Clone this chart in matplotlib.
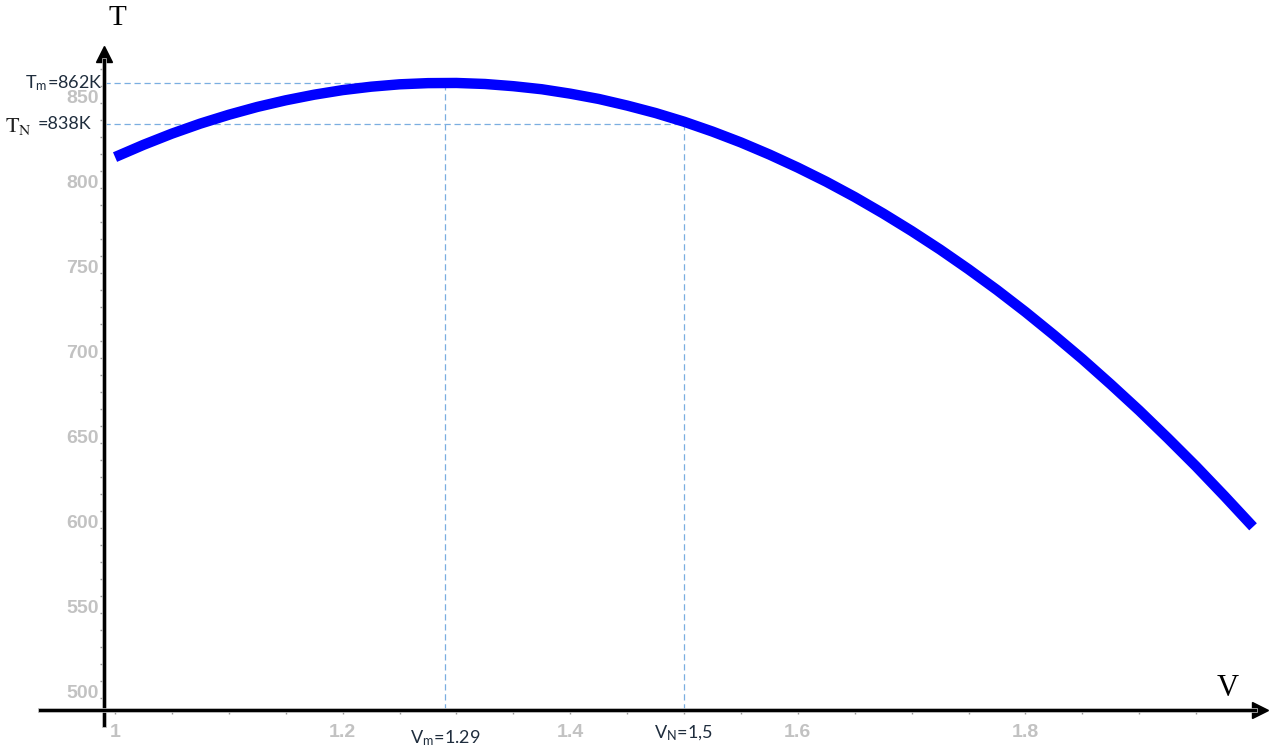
import matplotlib
matplotlib.use("Agg")
import matplotlib.pyplot as plt
import matplotlib.patheffects as pe
from matplotlib.ticker import FixedLocator, NullFormatter
import numpy as np

# Temperature of the gas along the process, T(V)
volume = [1.000, 1.025, 1.050, 1.075, 1.100, 1.125, 1.150, 1.175, 1.200,
          1.225, 1.250, 1.275, 1.300, 1.325, 1.350, 1.375, 1.400, 1.425,
          1.450, 1.475, 1.500, 1.525, 1.550, 1.575, 1.600, 1.625, 1.650,
          1.675, 1.700, 1.725, 1.750, 1.775, 1.800, 1.825, 1.850, 1.875,
          1.900, 1.925, 1.950, 1.975, 2.000]
temperature = [818.4, 825.6, 832.2, 838.1, 843.3, 847.9, 851.8, 855.1, 857.8,
               859.8, 861.2, 861.9, 862.0, 861.4, 860.1, 858.3, 855.7, 852.6,
               848.7, 844.3, 839.2, 833.4, 827.0, 819.9, 812.2, 803.9, 794.9,
               785.2, 774.9, 764.0, 752.4, 740.2, 727.3, 713.7, 699.6, 684.7,
               669.3, 653.1, 636.4, 618.9, 600.9]

x_major = [1.0, 1.2, 1.4, 1.6, 1.8]
x_labels = ["1", "1.2", "1.4", "1.6", "1.8"]
y_major = [500, 550, 600, 650, 700, 750, 800, 850]
y_labels = ["500", "550", "600", "650", "700", "750", "800", "850"]

# Marked points: maximum temperature and the final state
v_m, t_m = 1.29, 862
v_n, t_n = 1.5, 838

# Where the two coordinate axes cross
axis_v = 0.9903
axis_t = 493.1

plt.rcParams["mathtext.fontset"] = "stix"

fig = plt.figure(figsize=(12.7, 7.49), dpi=100)
ax = fig.add_axes([0, 0, 1, 1])
ax.set_xlim(0.8989, 2.0149)
ax.set_ylim(470.2, 910.8)
ax.patch.set_visible(False)

# Axes drawn as spines through the crossing point
shadow = [pe.withStroke(linewidth=3.4, foreground="#b0b0b0")]
for side in ("top", "right"):
    ax.spines[side].set_visible(False)
ax.spines["left"].set_position(("data", axis_v))
ax.spines["bottom"].set_position(("data", axis_t))
ax.spines["left"].set_bounds(484.3, 875.5)
ax.spines["bottom"].set_bounds(0.934, 2.0018)
for side in ("left", "bottom"):
    ax.spines[side].set_linewidth(2.2)
    ax.spines[side].set_color("black")
    ax.spines[side].set_path_effects(shadow)

# Arrow heads
ax.plot([axis_v], [879], marker="^", ms=11.5, color="black", clip_on=False)
ax.plot([2.0057], [axis_t], marker=">", ms=11.5, color="black", clip_on=False)

# Ticks
ax.set_xticks(x_major)
ax.set_xticklabels(x_labels)
ax.set_yticks(y_major)
ax.set_yticklabels(y_labels)
ax.xaxis.set_minor_locator(FixedLocator(np.arange(1.0, 1.96, 0.05)))
ax.yaxis.set_minor_locator(FixedLocator(np.arange(500, 871, 10)))
ax.xaxis.set_minor_formatter(NullFormatter())
ax.yaxis.set_minor_formatter(NullFormatter())
ax.tick_params(axis="both", which="both", direction="out", length=3,
               width=1, color="#9a9a9a")
ax.tick_params(axis="x", which="major", pad=7, labelsize=14,
               labelcolor="#c2c2c2")
ax.tick_params(axis="y", which="major", pad=1, labelsize=14,
               labelcolor="#c2c2c2")
for lab in ax.get_xticklabels() + ax.get_yticklabels():
    lab.set_fontfamily("Liberation Sans")
    lab.set_fontweight("bold")
for lab in ax.get_yticklabels():
    lab.set_verticalalignment("baseline")

# Guide lines to the marked points
guide = dict(color="#7aaee0", lw=0.9, ls=(0, (5, 3)), zorder=1)
ax.plot([axis_v, v_m], [t_m, t_m], **guide)
ax.plot([v_m, v_m], [axis_t, t_m], **guide)
ax.plot([axis_v, v_n], [t_n, t_n], **guide)
ax.plot([v_n, v_n], [axis_t, t_n], **guide)

# The curve
ax.plot(volume, temperature, color="#0000ff", lw=7.5,
        solid_capstyle="butt", solid_joinstyle="round", zorder=3)

# Axis names
fig.text(117 / 1270, 1 - 18 / 749, "T", family="Liberation Serif",
         fontsize=21, ha="center", va="center")
fig.text(1228 / 1270, 1 - 689 / 749, "V", family="Liberation Serif",
         fontsize=22, ha="center", va="center")

# Point labels
label_color = "#1f2d3d"
ax.annotate(r"T$_\mathregular{m}$=862K", xy=(axis_v, t_m),
            xytext=(-1, 0), textcoords="offset points", ha="right",
            va="center", fontsize=13, family="Lato", color=label_color)
ax.annotate("=838K", xy=(axis_v, t_n), xytext=(-9, 0),
            textcoords="offset points", ha="right", va="center",
            fontsize=13, family="Lato", color=label_color)
ax.annotate(r"$\mathrm{T}_\mathrm{N}$", xy=(axis_v, t_n), xytext=(-71, -2),
            textcoords="offset points", ha="left", va="center",
            fontsize=16, color="#222222")
ax.annotate(r"V$_\mathregular{m}$=1.29", xy=(v_m, axis_t),
            xytext=(0, -20), textcoords="offset points", ha="center",
            va="center", fontsize=13, family="Lato", color=label_color,
            annotation_clip=False)
ax.annotate(r"V$_\mathregular{N}$=1,5", xy=(v_n, axis_t),
            xytext=(0, -16.5), textcoords="offset points", ha="center",
            va="center", fontsize=13, family="Lato", color=label_color,
            annotation_clip=False)

fig.savefig("out.png", dpi=100)
